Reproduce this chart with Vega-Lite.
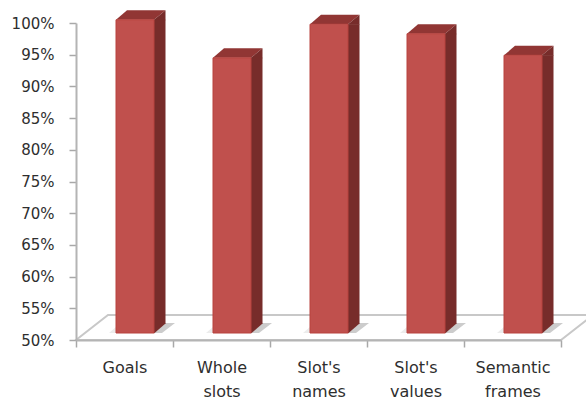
{"$schema":"https://vega.github.io/schema/vega-lite/v6.json","width":485,"height":317,"autosize":"none","padding":{"left":76,"top":23,"right":25,"bottom":61},"background":"white","config":{"view":{"stroke":null},"font":"DejaVu Sans"},"data":{"values":[{"task":"Goals","accuracy":0.994},{"task":"Whole slots","accuracy":0.934},{"task":"Slot's names","accuracy":0.987},{"task":"Slot's values","accuracy":0.972},{"task":"Semantic frames","accuracy":0.938}]},"encoding":{"x":{"field":"task","type":"nominal","sort":null,"scale":{"paddingInner":0,"paddingOuter":0},"axis":{"title":null,"labelAngle":0,"labelExpr":"split(datum.label,' ')","labelFontSize":16,"labelColor":"#2e2e2e","labelPadding":12,"labelLineHeight":24,"tickBand":"extent","tickSize":7,"tickWidth":1.5,"tickColor":"#a8a8a8","domainColor":"#b4b4b4","domainWidth":2,"zindex":1}},"y":{"field":"accuracy","type":"quantitative","scale":{"domain":[0.5,1],"zero":false,"nice":false},"axis":{"title":null,"values":[0.5,0.55,0.6,0.65,0.7,0.75,0.8,0.85,0.9,0.95,1],"format":".0%","grid":false,"labelFontSize":15,"labelColor":"#2e2e2e","labelPadding":15,"tickSize":7,"tickWidth":1.5,"tickColor":"#a8a8a8","domainColor":"#b4b4b4","domainWidth":2,"zindex":1}}},"layer":[{"transform":[{"filter":"datum.task==='Goals'"}],"mark":{"type":"point","shape":"M-48.5,0L436.5,0L468.5,-25L-16.5,-25Z","size":4,"filled":true,"opacity":1,"fill":"white","stroke":"#c8c8c8","strokeWidth":2},"encoding":{"y":{"datum":0.5}}},{"mark":{"type":"point","shape":"M19,0L27,0L40,-10L30,-10Z","size":4,"filled":true,"opacity":1,"fill":"#cccccc","xOffset":10.5,"yOffset":-7},"encoding":{"y":{"datum":0.5}}},{"mark":{"type":"point","shape":"M-19,0L-26,0L-19,-6Z","size":4,"filled":true,"opacity":1,"fill":"#ececec","xOffset":10.5,"yOffset":-7},"encoding":{"y":{"datum":0.5}}},{"mark":{"type":"point","shape":"M-19,0L19,0L30.5,-9.5L-8,-9.5Z","size":4,"filled":true,"opacity":1,"fill":"#913634","xOffset":10.5,"yOffset":-7}},{"mark":{"type":"point","shape":"M19,0L30.5,-9.5L30.5,0.5L19,0.5Z","size":4,"filled":true,"opacity":1,"fill":"#772c2a","xOffset":10.5,"yOffset":-7}},{"mark":{"type":"point","shape":"M19,0.5L19,-9.5L30.5,-9.5Z","size":4,"filled":true,"opacity":1,"fill":"#772c2a","xOffset":10.5,"yOffset":-7},"encoding":{"y":{"datum":0.5}}},{"mark":{"type":"bar","size":11.5,"fill":"#772c2a","xOffset":35.25,"yOffset":-7,"y2Offset":-16},"encoding":{"y2":{"datum":0.5}}},{"mark":{"type":"bar","size":38,"fill":"#c0504d","stroke":"#b8433f","strokeWidth":1,"xOffset":10.5,"yOffset":-7,"y2Offset":-7},"encoding":{"y2":{"datum":0.5}}}]}
